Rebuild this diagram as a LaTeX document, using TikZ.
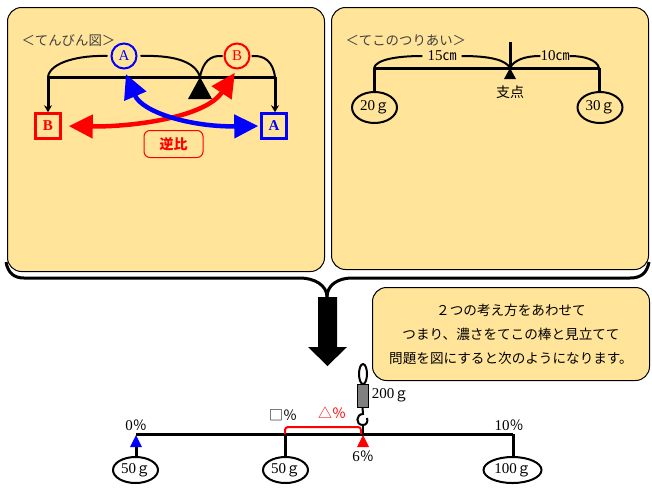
\documentclass[tikz,border=0pt]{standalone}
\usepackage{fontspec}
\setmainfont{Noto Sans CJK JP}
\newfontfamily\latinrm{Liberation Serif}
\usepackage{xcolor}
\usetikzlibrary{shapes.geometric,arrows.meta,positioning,calc}
\definecolor{panelyellow}{HTML}{FFE499}
\definecolor{scalegray}{HTML}{808080}
\newcommand{\grams}[1]{{\fontsize{15}{15}\latinrm #1}ｇ}
\newcommand{\pct}[1]{{\fontsize{15}{15}\latinrm #1}％}
\tikzset{
  panel/.style={draw=black,fill=panelyellow,line width=1pt,rounded corners=14pt},
  title/.style={anchor=west,font=\fontsize{13.4}{15}\selectfont,text=black!75},
  beam/.style={line width=3pt},
  thinarc/.style={line width=2pt},
  rope/.style={line width=3pt},
  weight/.style={draw,ellipse,line width=2pt,inner sep=0pt,font=\fontsize{14}{15}\selectfont},
  label/.style={font=\fontsize{14}{15}\selectfont,inner sep=0pt},
  ballcircle/.style={draw=#1,circle,line width=2pt,minimum size=25pt,inner sep=0pt,text=#1,font=\fontsize{15}{16}\latinrm},
  ballbox/.style={draw=#1,line width=2.5pt,minimum size=25pt,inner sep=0pt,text=#1,font=\fontsize{15}{16}\latinrm\bfseries},
  ratioarrow/.style={draw=#1,line width=4.5pt,{Triangle[length=24pt,width=23pt,color=#1]}-{Triangle[length=24pt,width=23pt,color=#1]}}
}
\begin{document}
\begin{tikzpicture}[x=1pt,y=-1pt]
  \useasboundingbox (0,0) rectangle (652,493);

  \draw[line width=3pt] (6,262) .. controls (8,273) and (14,278) .. (24,278) -- (300,278) .. controls (314,278) and (327,285) .. (327,297);
  \draw[line width=3pt] (327,297) .. controls (327,285) and (338,278) .. (352,278) -- (630,278) .. controls (641,278) and (647,273) .. (649,262);
  \node[panel,minimum width=317pt,minimum height=264pt,anchor=north west] (leftpanel) at (7,7) {};
  \node[panel,minimum width=317pt,minimum height=262pt,anchor=north west] (rightpanel) at (331,7) {};

  \node[title] (titleleft) at (18,41) {＜てんびん図＞};
  \coordinate (beamL) at (48,77);
  \coordinate (beamR) at (275,77);
  \coordinate (pivotL) at (200,77);
  \fill (pivotL) -- (212,99) -- (188,99) -- cycle;
  \draw[beam] (beamL) -- (beamR);
  \node[ballcircle=blue] (circA) at (124,56) {A};
  \node[ballcircle=red] (circB) at (237,56) {B};
  \node[ballbox=red] (boxB) at (48,126) {B};
  \node[ballbox=blue] (boxA) at (274,126) {A};
  \draw[thinarc] (beamL) .. controls (50,62) and (80,55) .. ([xshift=-3pt]circA.west);
  \draw[thinarc] ([xshift=3pt]circA.east) .. controls (170,55) and (195,60) .. (pivotL);
  \draw[thinarc] (pivotL) .. controls (203,62) and (210,55) .. ([xshift=-1pt]circB.west);
  \draw[thinarc] ([xshift=1pt]circB.east) .. controls (265,55) and (273,62) .. (beamR);
  \draw[rope,-{Stealth[length=7pt,width=8pt]}] (beamL) -- (boxB.north -| beamL);
  \draw[rope,-{Stealth[length=7pt,width=8pt]}] (beamR) -- (boxA.north -| beamR);
  \draw[ratioarrow=red,shorten <=7pt,shorten >=4pt] (boxB.east) .. controls (130,127) and (205,118) .. (circB.south);
  \draw[ratioarrow=blue,shorten <=5pt,shorten >=2pt] (circA.south) .. controls (142,112) and (190,127) .. (boxA.west);
  \node[draw=red,line width=1pt,rounded corners=6pt,minimum width=59pt,minimum height=27pt,inner sep=0pt,text=red,font=\fontsize{14}{16}\selectfont\bfseries] (gyakuhi) at (173.5,144) {逆比};

  \node[title] (titleright) at (342,41) {＜てこのつりあい＞};
  \coordinate (leverL) at (374,68);
  \coordinate (leverR) at (599,68);
  \coordinate (fulcrum) at (510,68);
  \coordinate (fulcrumtop) at (510,42);
  \node[label] (dist15) at (442,56) {{\fontsize{15}{15}\latinrm 15}㎝};
  \node[label] (dist10) at (555,56) {{\fontsize{15}{15}\latinrm 10}㎝};
  \draw[thinarc] (leverL) .. controls (376,60) and (395,56) .. ([xshift=-5pt]dist15.west);
  \draw[thinarc] ([xshift=5pt]dist15.east) .. controls (490,56) and (506,60) .. (fulcrum);
  \draw[thinarc] (fulcrum) .. controls (514,60) and (525,56) .. (dist10.west);
  \draw[thinarc] (dist10.east) .. controls (585,56) and (597,60) .. (leverR);
  \draw[beam] (leverL) -- (leverR);
  \draw[beam] (fulcrumtop) -- (fulcrum);
  \fill (fulcrum) -- (516,79) -- (504,79) -- cycle;
  \node[label] (shiten) at (510,92) {支点};
  \node[weight,minimum width=45pt,minimum height=31pt] (w20) at (374.5,107.5) {\grams{20}};
  \node[weight,minimum width=45pt,minimum height=31pt] (w30) at (600,107.5) {\grams{30}};
  \draw[rope] (leverL) -- (w20.north -| leverL);
  \draw[rope] (leverR) -- (w30.north -| leverR);

  \fill (318,297) -- (337,297) -- (337,347) -- (347,347) -- (327.5,366) -- (308,347) -- (318,347) -- cycle;

  \node[panel,minimum width=277pt,minimum height=93pt,anchor=north west,align=center,font=\fontsize{13.6}{24}\selectfont] (note) at (372,287) {２つの考え方をあわせて\\つまり、濃さをてこの棒と見立てて\\問題を図にすると次のようになります。};

  \coordinate (barL) at (136,434);
  \coordinate (barM) at (285,434);
  \coordinate (barP) at (363,434);
  \coordinate (barR) at (513,434);
  \draw[beam] (barL) -- (barR);
  \fill[blue] (136,435) -- (142,447) -- (130,447) -- cycle;
  \fill[red] (363,435) -- (369,447) -- (357,447) -- cycle;
  \node[weight,minimum width=45pt,minimum height=26pt] (w50a) at (135.5,470) {\grams{50}};
  \node[weight,minimum width=45pt,minimum height=26pt] (w50b) at (285.5,470) {\grams{50}};
  \node[weight,minimum width=58pt,minimum height=26pt] (w100) at (512.5,470) {\grams{100}};
  \draw[rope] (136,447) -- (w50a.north -| barL);
  \draw[rope] (barM) -- (w50b.north -| barM);
  \draw[rope] (barR) -- (w100.north -| barR);
  \draw[draw=red,line width=2pt,rounded corners=3pt] (barM) -- (285,427) -- (361,427) -- (361,434);
  \node[label] (pct0) at (136,425) {\pct{0}};
  \node[label] (pctbox) at (283,415) {□％};
  \node[label,text=red] (pcttri) at (332,413) {△％};
  \node[label] (pct6) at (363,456) {\pct{6}};
  \node[label] (pct10) at (509,425) {\pct{10}};

  \draw[line width=2pt] (363,374) ellipse (4 and 10);
  \node[draw,fill=scalegray,line width=1pt,minimum width=11pt,minimum height=23pt,inner sep=0pt] (scalebody) at (362.5,395.5) {};
  \draw[line width=2pt] (scalebody.south) -- (363,414) .. controls (356,414) and (355,425) .. (363,425) .. controls (367,425) and (368,421) .. (367,418);
  \draw[line width=2pt] (363,425) -- (barP);
  \node[label] (w200) at (390,395) {\grams{200}};
\end{tikzpicture}
\end{document}
